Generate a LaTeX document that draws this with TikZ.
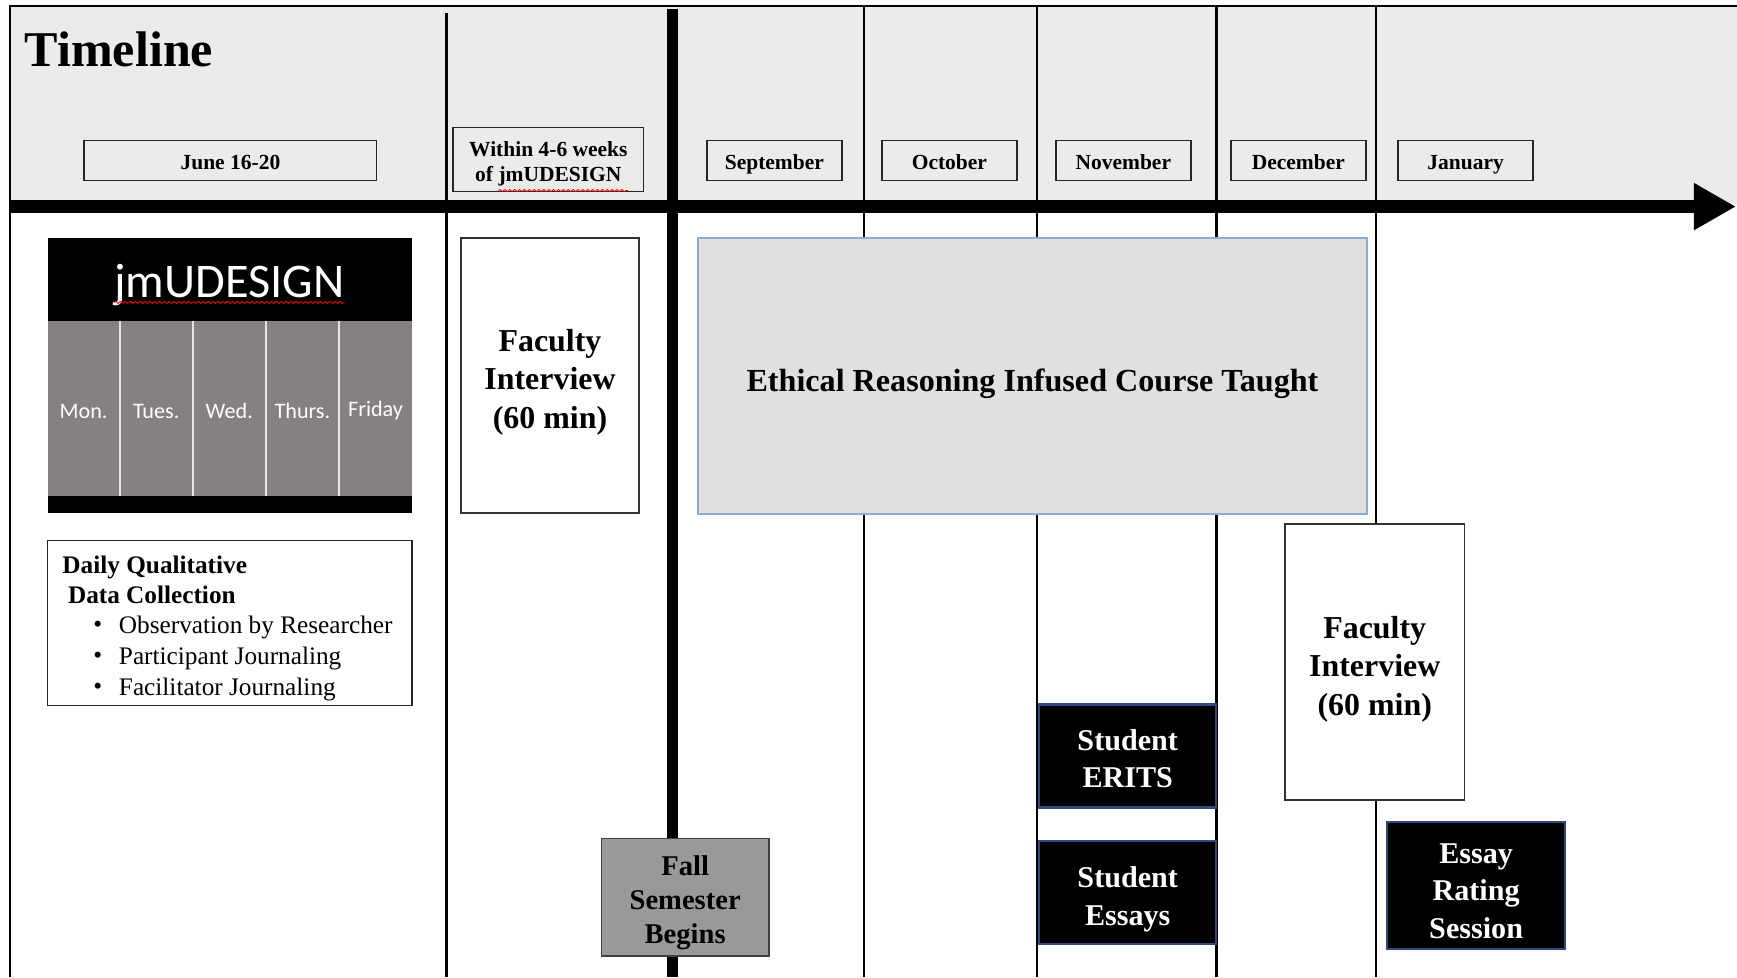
\documentclass[tikz,border=0pt]{standalone}
\usepackage{fontspec}
\setmainfont{Liberation Serif}
\newfontfamily\calibrifont{Carlito}
\usetikzlibrary{decorations.pathmorphing,arrows.meta}
\definecolor{hdr}{HTML}{EBEBEB}
\definecolor{ethfill}{HTML}{E0E0E0}
\definecolor{ethline}{HTML}{8FA9D4}
\definecolor{daygray}{HTML}{878080}
\definecolor{divline}{HTML}{E4E4E4}
\definecolor{fallgray}{HTML}{999999}
\definecolor{navyline}{HTML}{2F4A80}
\tikzset{
  vline/.style={line width=1.1pt,black},
  thickline/.style={line width=5.3pt,black},
  monthbox/.style={draw=black!85,line width=0.7pt,fill=hdr,inner sep=0pt,text height=9pt,text depth=0.6pt,
    minimum width=61pt,minimum height=18pt,font=\fontsize{9.7}{11.5}\selectfont\bfseries},
  plainbox/.style={draw=black!80,line width=0.7pt,fill=white,inner sep=0pt},
  boxtext/.style={align=center,inner sep=0pt},
  bigbold/.style={font=\fontsize{14.4}{17.5}\selectfont\bfseries},
  darkbox/.style={draw=navyline,line width=1pt,fill=black,inner sep=0pt},
  darktext/.style={align=center,inner sep=0pt,text=white,font=\fontsize{13.6}{17}\selectfont\bfseries},
  dayl/.style={text=white,font=\calibrifont\fontsize{10}{12}\selectfont},
  listtxt/.style={anchor=west,inner sep=0pt,font=\fontsize{11.4}{13.75}\selectfont},
  squig/.style={red,line width=0.35pt,decorate,decoration={snake,amplitude=0.5pt,segment length=2.2pt}}
}
\begin{document}
\begin{tikzpicture}[x=0.5pt,y=-0.5pt]
\useasboundingbox (0,0) rectangle (1568,882);
\fill[white] (0,0) rectangle (1568,882);
% header band
\fill[hdr] (9,5) rectangle (1568,184);
% frame
\draw[line width=0.9pt] (9,882) -- (9,5) -- (1568,5);
% vertical lines
\coordinate (v1t) at (403,12);  \coordinate (v1b) at (403,882);
\coordinate (v2t) at (607,8);   \coordinate (v2b) at (607,882);
\coordinate (v3t) at (780,5);   \coordinate (v3b) at (780,882);
\coordinate (v4t) at (936,5);   \coordinate (v4b) at (936,882);
\coordinate (v5t) at (1098,5);  \coordinate (v5b) at (1098,882);
\coordinate (v6t) at (1242,5);  \coordinate (v6b) at (1242,882);
\draw[vline] (v1t) -- (v1b);
\draw[thickline] (v2t) -- (v2b);
\draw[vline] (v3t) -- (v3b);
\draw[vline] (v4t) -- (v4b);
\draw[vline] (v5t) -- (v5b);
\draw[vline] (v6t) -- (v6b);
% timeline bar
\coordinate (tl0) at (9,186.5);
\coordinate (tl1) at (1567,186.5);
\draw[line width=5.8pt,-{Triangle[length=19pt,width=20pt]}] (tl0) -- (tl1);
% title
\node[anchor=base west,inner sep=0pt,font=\fontsize{22.6}{26}\selectfont\bfseries] (title) at (22,60) {Timeline};
% month boxes
\node[monthbox,minimum width=132pt] (june) at (208,145) {June 16-20};
\node[monthbox,minimum width=86pt,minimum height=29pt,text height=,text depth=] (within) at (495,144) {};
\node[boxtext,font=\fontsize{9.7}{11.5}\selectfont\bfseries] (withint) at (495,148) {Within 4-6 weeks\\of jmUDESIGN};
\draw[squig] (450,172) -- (567,172);
\node[monthbox] (sep) at (699,145) {September};
\node[monthbox] (oct) at (857,145) {October};
\node[monthbox] (nov) at (1014,145) {November};
\node[monthbox] (dec) at (1172,145) {December};
\node[monthbox] (jan) at (1323,145) {January};
% jmUDESIGN block
\fill[black] (43,215) rectangle (372,463);
\fill[daygray] (43,290) rectangle (372,448);
\foreach \xx in {108,174,240,306} \draw[divline,line width=1pt] (\xx,290) -- (\xx,448);
\node[text=white,inner sep=0pt,font=\calibrifont\fontsize{21.8}{24}\selectfont] (jm) at (207,257) {jmUDESIGN};
\draw[squig] (103,273) -- (311,273);
\node[dayl] (mon) at (75.5,371) {Mon.};
\node[dayl] (tue) at (141,371) {Tues.};
\node[dayl] (wed) at (207,371) {Wed.};
\node[dayl] (thu) at (273,371) {Thurs.};
\node[dayl] (fri) at (339,371) {Friday};
% daily box
\node[draw=black!85,line width=0.7pt,minimum width=164.5pt,minimum height=74.5pt,inner sep=0pt] (daily) at (207.5,562.5) {};
\node[listtxt,font=\fontsize{11.4}{13.75}\selectfont\bfseries] (d1) at (56,512) {Daily Qualitative};
\node[listtxt,font=\fontsize{11.4}{13.75}\selectfont\bfseries] (d2) at (61,537) {Data Collection};
\node[listtxt] (b1) at (84,566) {\textbullet};
\node[listtxt] (b2) at (84,594) {\textbullet};
\node[listtxt] (b3) at (84,622) {\textbullet};
\node[listtxt] (l1) at (107,566) {Observation by Researcher};
\node[listtxt] (l2) at (107,594) {Participant Journaling};
\node[listtxt] (l3) at (107,622) {Facilitator Journaling};
% faculty interview 1
\node[plainbox,minimum width=80.5pt,minimum height=124pt] (fac1) at (496.5,339) {};
\node[boxtext,bigbold] (fac1t) at (496.5,345) {Faculty\\Interview\\(60 min)};
% ethical box
\node[draw=ethline,line width=0.9pt,fill=ethfill,minimum width=302pt,minimum height=124.5pt,inner sep=0pt] (eth) at (932,339.5) {};
\node[inner sep=0pt,font=\fontsize{14.5}{17.5}\selectfont\bfseries] (etht) at (932,346) {Ethical Reasoning Infused Course Taught};
% faculty interview 2
\node[plainbox,minimum width=81pt,minimum height=124.5pt] (fac2) at (1241,597.5) {};
\node[boxtext,bigbold] (fac2t) at (1241,604) {Faculty\\Interview\\(60 min)};
% student boxes
\node[darkbox,minimum width=80pt,minimum height=46.5pt] (erits) at (1018,682.5) {};
\node[darktext] (eritst) at (1018,685) {Student\\ERITS};
\node[darkbox,minimum width=80pt,minimum height=46.5pt] (essays) at (1018,805.5) {};
\node[darktext] (essayst) at (1018,811.5) {Student\\Essays};
\node[darkbox,minimum width=80.5pt,minimum height=57.5pt] (rating) at (1332.5,799.5) {};
\node[darktext] (ratingt) at (1332.5,804.5) {Essay\\Rating\\Session};
% fall semester
\node[draw=black!75,line width=0.8pt,fill=fallgray,minimum width=75.5pt,minimum height=53pt,inner sep=0pt] (fall) at (618.5,810) {};
\node[boxtext,font=\fontsize{12.9}{15.5}\selectfont\bfseries] (fallt) at (618.5,815) {Fall\\Semester\\Begins};
\end{tikzpicture}
\end{document}
